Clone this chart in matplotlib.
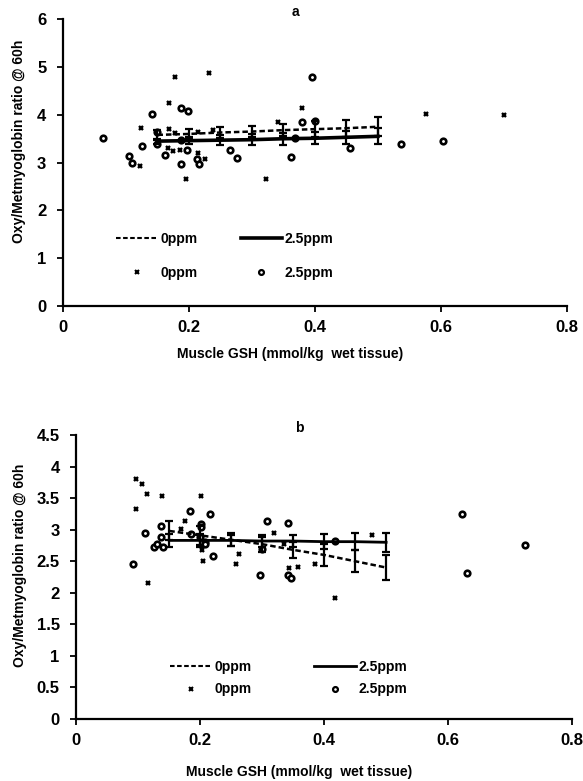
import matplotlib
matplotlib.use("Agg")
import matplotlib.pyplot as plt
from matplotlib.lines import Line2D

plt.rcParams['font.family'] = ['Liberation Sans', 'DejaVu Sans']
plt.rcParams['font.weight'] = 'bold'

# ---- panel a ----
a_x0 = [0.178, 0.232, 0.168, 0.124, 0.168, 0.123, 0.166, 0.175, 0.185, 0.196,
        0.215, 0.225, 0.238, 0.178, 0.214, 0.323, 0.341, 0.380, 0.576, 0.700]
a_y0 = [4.78, 4.88, 4.25, 3.73, 3.70, 2.93, 3.30, 3.24, 3.26, 2.65,
        3.20, 3.08, 3.68, 3.63, 3.65, 2.65, 3.85, 4.15, 4.02, 4.00]
a_x25 = [0.064, 0.105, 0.110, 0.126, 0.142, 0.149, 0.149, 0.162, 0.187, 0.187,
         0.188, 0.199, 0.197, 0.212, 0.216, 0.265, 0.277, 0.362, 0.368, 0.380,
         0.395, 0.400, 0.455, 0.536, 0.603]
a_y25 = [3.52, 3.14, 3.00, 3.35, 4.01, 3.64, 3.38, 3.15, 3.47, 2.97,
         4.14, 4.08, 3.26, 3.07, 2.97, 3.27, 3.10, 3.12, 3.52, 3.86,
         4.80, 3.88, 3.30, 3.39, 3.46]

fit_x = [0.15, 0.20, 0.25, 0.30, 0.35, 0.40, 0.45, 0.50]
a_fit0 = [3.58, 3.60, 3.63, 3.65, 3.68, 3.70, 3.72, 3.75]
a_err0 = [0.10, 0.10, 0.11, 0.12, 0.12, 0.17, 0.18, 0.20]
a_fit25 = [3.45, 3.46, 3.47, 3.48, 3.50, 3.51, 3.53, 3.55]
a_err25 = [0.05, 0.07, 0.10, 0.11, 0.13, 0.13, 0.13, 0.17]

# ---- panel b ----
b_x0 = [0.096, 0.106, 0.114, 0.139, 0.097, 0.201, 0.176, 0.169, 0.203, 0.205,
        0.262, 0.257, 0.319, 0.335, 0.358, 0.344, 0.385, 0.116, 0.417, 0.477]
b_y0 = [3.81, 3.72, 3.56, 3.53, 3.32, 3.54, 3.14, 3.01, 2.67, 2.50,
        2.61, 2.45, 2.94, 2.78, 2.41, 2.40, 2.45, 2.16, 1.91, 2.91]
b_x25 = [0.092, 0.110, 0.137, 0.136, 0.125, 0.130, 0.140, 0.184, 0.185, 0.202,
         0.202, 0.208, 0.200, 0.207, 0.216, 0.221, 0.296, 0.308, 0.300, 0.342,
         0.342, 0.347, 0.418, 0.623, 0.630, 0.725]
b_y25 = [2.45, 2.95, 3.06, 2.88, 2.73, 2.77, 2.72, 3.29, 2.93, 3.09,
         3.04, 2.81, 2.88, 2.78, 3.25, 2.58, 2.28, 3.14, 2.70, 3.11,
         2.28, 2.24, 2.82, 3.25, 2.32, 2.75]

b_fit0 = [2.98, 2.91, 2.84, 2.77, 2.68, 2.60, 2.50, 2.40]
b_err0 = [0.15, 0.15, 0.10, 0.12, 0.13, 0.18, 0.17, 0.20]
b_fit25 = [2.83, 2.83, 2.83, 2.82, 2.82, 2.81, 2.81, 2.80]
b_err25 = [0.10, 0.10, 0.09, 0.09, 0.10, 0.12, 0.13, 0.15]

x_ticks = [0, 0.2, 0.4, 0.6, 0.8]
x_labels = ['0', '0.2', '0.4', '0.6', '0.8']
a_yticks = [0, 1, 2, 3, 4, 5, 6]
b_yticks = [0, 0.5, 1, 1.5, 2, 2.5, 3, 3.5, 4, 4.5]
b_ylabels = ['0', '0.5', '1', '1.5', '2', '2.5', '3', '3.5', '4', '4.5']

fig = plt.figure(figsize=(5.83, 7.81), dpi=100)
ax_a = fig.add_axes([0.108, 0.608, 0.8645, 0.3675])
ax_b = fig.add_axes([0.131, 0.0794, 0.850, 0.3636])

dash = (0, (2.2, 1.2))


def style(ax, ylim, yticks, ylabels):
    ax.set_xlim(0, 0.8)
    ax.set_ylim(*ylim)
    for s in ['top', 'right']:
        ax.spines[s].set_visible(False)
    for s in ['left', 'bottom']:
        ax.spines[s].set_linewidth(1.6)
    ax.set_xticks(x_ticks)
    ax.set_xticklabels(x_labels)
    ax.set_yticks(yticks)
    ax.set_yticklabels(ylabels)
    ax.tick_params(direction='out', length=4, width=1.3, labelsize=12)
    ax.tick_params(axis='x', pad=6)
    ax.tick_params(axis='y', pad=8)
    ax.set_xlabel('Muscle GSH (mmol/kg  wet tissue)', fontsize=10, fontweight='bold')
    ax.set_ylabel('Oxy/Metmyoglobin ratio @ 60h', fontsize=10, fontweight='bold')


def draw(ax, x0, y0, x25, y25, f0, e0, f25, e25, lw_solid):
    ax.plot(x0, y0, 'x', color='black', ms=3.5, mew=1.7, clip_on=False)
    ax.plot(x25, y25, 'o', color='black', mfc='white', ms=4, mew=1.9, clip_on=False)
    ax.errorbar(fit_x, f0, yerr=e0, color='black', ls=dash, lw=1.8,
                elinewidth=1.6, capsize=3, capthick=1.6)
    ax.errorbar(fit_x, f25, yerr=e25, color='black', ls='-', lw=lw_solid,
                elinewidth=1.6, capsize=3, capthick=1.6)


def legend(ax, anchor, lw_solid, spacing, colspace):
    handles = [
        Line2D([], [], color='black', ls=dash, lw=1.5),
        Line2D([], [], color='black', ls='none', marker='x', ms=3.5, mew=1.5),
        Line2D([], [], color='black', ls='-', lw=lw_solid),
        Line2D([], [], color='black', ls='none', marker='o', mfc='white', ms=3.5, mew=1.6),
    ]
    labels = ['0ppm', '0ppm', '2.5ppm', '2.5ppm']
    ax.legend(handles, labels, ncol=2, loc='center left', bbox_to_anchor=anchor,
              frameon=False, handlelength=3.0, handletextpad=0.2,
              labelspacing=spacing, columnspacing=colspace, borderpad=0,
              borderaxespad=0, prop={'weight': 'bold', 'size': 10})


draw(ax_a, a_x0, a_y0, a_x25, a_y25, a_fit0, a_err0, a_fit25, a_err25, 2.6)
style(ax_a, (0, 6), a_yticks, [str(t) for t in a_yticks])
legend(ax_a, (0.105, 0.174), 2.6, 1.45, 3.1)
ax_a.xaxis.set_label_coords(0.45, -0.143)
ax_a.yaxis.set_label_coords(-0.073, 0.575)

draw(ax_b, b_x0, b_y0, b_x25, b_y25, b_fit0, b_err0, b_fit25, b_err25, 2.0)
style(ax_b, (0, 4.5), b_yticks, b_ylabels)
legend(ax_b, (0.189, 0.143), 2.0, 0.58, 4.5)
ax_b.xaxis.set_label_coords(0.45, -0.162)
ax_b.yaxis.set_label_coords(-0.10, 0.54)

fig.text(295 / 583, 1 - 12 / 781, 'a', ha='center', va='center', fontsize=10, fontweight='bold')
fig.text(299 / 583, 1 - 428 / 781, 'b', ha='center', va='center', fontsize=10, fontweight='bold')

fig.savefig('out.png', dpi=100)
